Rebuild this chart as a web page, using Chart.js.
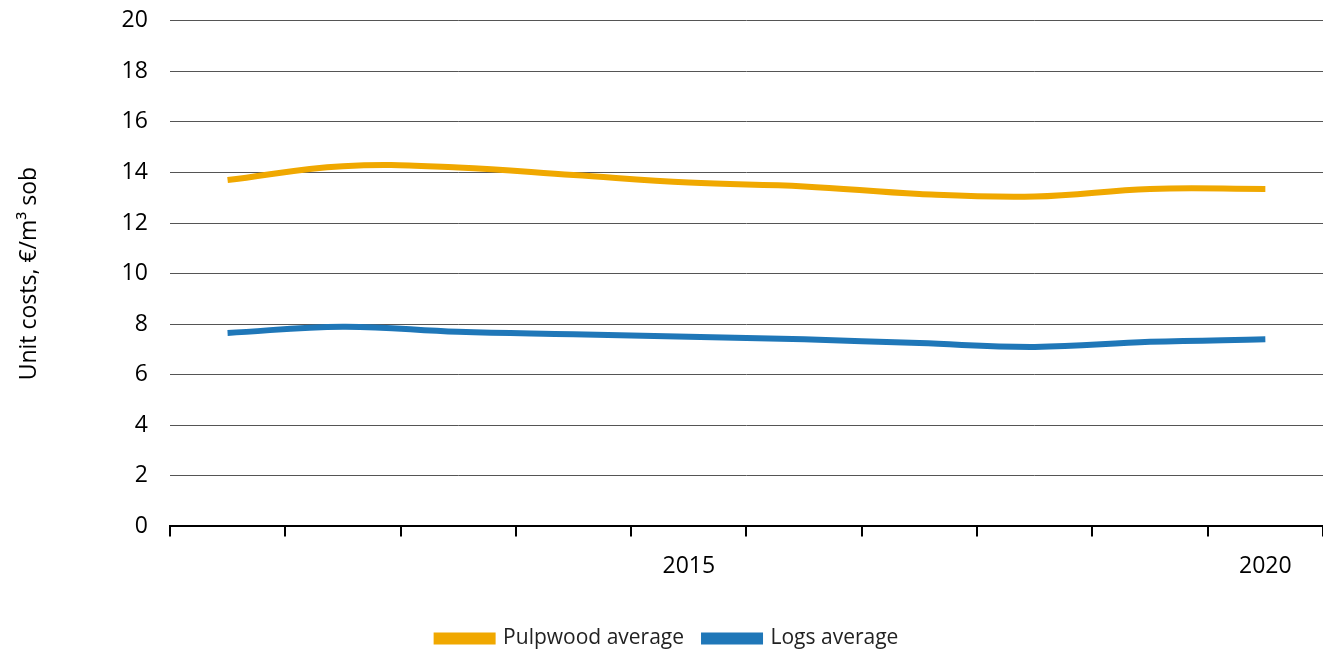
<!DOCTYPE html>
<html>
<head>
<meta charset="utf-8">
<script src="https://cdn.jsdelivr.net/npm/chart.js@4"></script>
<style>
  html, body { margin: 0; padding: 0; background: #fff; overflow: hidden; }
  #wrap { width: 1323px; height: 674px; margin-top: -15px; }
</style>
</head>
<body>
<div id="wrap"><canvas id="costChart"></canvas></div>
<script>
const years = ["2011", "2012", "2013", "2014", "2015", "2016", "2017", "2018", "2019", "2020"];
const shownYears = ["2015", "2020"];
const pulpwood = [13.7, 14.25, 14.2, 13.9, 13.6, 13.45, 13.15, 13.05, 13.35, 13.35];
const logs = [7.65, 7.9, 7.7, 7.6, 7.5, 7.4, 7.25, 7.1, 7.3, 7.4];

const ctx = document.getElementById('costChart').getContext('2d');
Chart.defaults.font.family = '"Open Sans", sans-serif';
Chart.defaults.color = '#000';

new Chart(ctx, {
  type: 'line',
  data: {
    labels: years,
    datasets: [{
      label: 'Pulpwood average',
      data: pulpwood,
      borderColor: '#f0a800',
      backgroundColor: '#f0a800',
      borderWidth: 6,
      pointRadius: 0,
      tension: 0.4
    }, {
      label: 'Logs average',
      data: logs,
      borderColor: '#1f77b8',
      backgroundColor: '#1f77b8',
      borderWidth: 6,
      pointRadius: 0,
      tension: 0.4
    }]
  },
  options: {
    responsive: true,
    maintainAspectRatio: false,
    animation: false,
    layout: { padding: { left: 12, right: 0, top: 0, bottom: 0 } },
    plugins: {
      legend: {
        position: 'bottom',
        labels: { boxWidth: 56, boxHeight: 6, padding: 20, font: { size: 21 }, color: '#222' }
      },
      tooltip: { enabled: false }
    },
    scales: {
      x: {
        offset: true,
        afterFit: s => { s.height += 12; },
        grid: { offset: true, drawOnChartArea: false, drawTicks: true, tickLength: 10, color: '#000', lineWidth: 2 },
        border: { color: '#000', width: 2 },
        ticks: {
          autoSkip: false, maxRotation: 0, font: { size: 23 }, padding: 16,
          callback: function(v) { const l = this.getLabelForValue(v); return shownYears.includes(l) ? l : ''; }
        }
      },
      y: {
        min: 0, max: 20,
        ticks: { stepSize: 2, font: { size: 23 }, padding: 22 },
        grid: { color: '#555', lineWidth: 1, drawTicks: false },
        border: { display: false },
        title: { display: true, text: 'Unit costs, €/m³ sob', font: { size: 23 }, padding: { bottom: 56 } }
      }
    }
  }
});
</script>
</body>
</html>
